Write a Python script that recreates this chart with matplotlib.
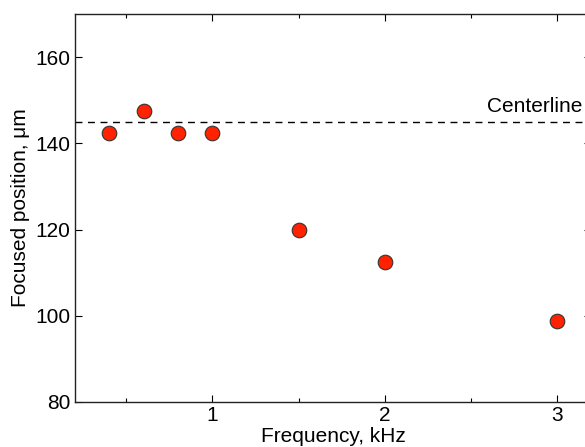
import matplotlib.pyplot as plt
from matplotlib.ticker import MultipleLocator

plt.rcParams["font.family"] = ["Liberation Sans", "DejaVu Sans"]

# data
freq_khz = [0.4, 0.6, 0.8, 1.0, 1.5, 2.0, 3.0]
position_um = [142.5, 147.5, 142.5, 142.5, 120.0, 112.5, 98.8]
centerline_um = 145.0

fig = plt.figure(figsize=(5.85, 4.47), dpi=100)
# axes runs a little past the right edge, like the cropped original
ax = fig.add_axes([0.1275, 0.1007, 0.8836, 0.868])

ax.axhline(centerline_um, color="black", lw=1.0, ls=(0, (5, 4)), zorder=1)
ax.text(3.145, 147.2, "Centerline", ha="right", va="baseline", fontsize=15)

ax.plot(freq_khz, position_um, "o", ms=10.5, mfc="#ff2200", mec="#333333",
        mew=0.8, zorder=3)

ax.set_xlim(0.2, 3.2)
ax.set_ylim(80, 170)
ax.xaxis.set_major_locator(MultipleLocator(1))
ax.xaxis.set_minor_locator(MultipleLocator(0.5))
ax.yaxis.set_major_locator(MultipleLocator(20))
ax.tick_params(which="both", direction="in", top=True, right=True,
               labelsize=15, pad=3)
ax.tick_params(which="major", length=5, width=0.8)
ax.tick_params(which="minor", length=3, width=0.8)
for s in ax.spines.values():
    s.set_linewidth(1.0)
    s.set_color("#222222")

ax.set_xlabel("Frequency, kHz", fontsize=15, labelpad=1)
ax.set_ylabel("Focused position, μm", fontsize=15, labelpad=4)

fig.savefig("out.png", dpi=100)
